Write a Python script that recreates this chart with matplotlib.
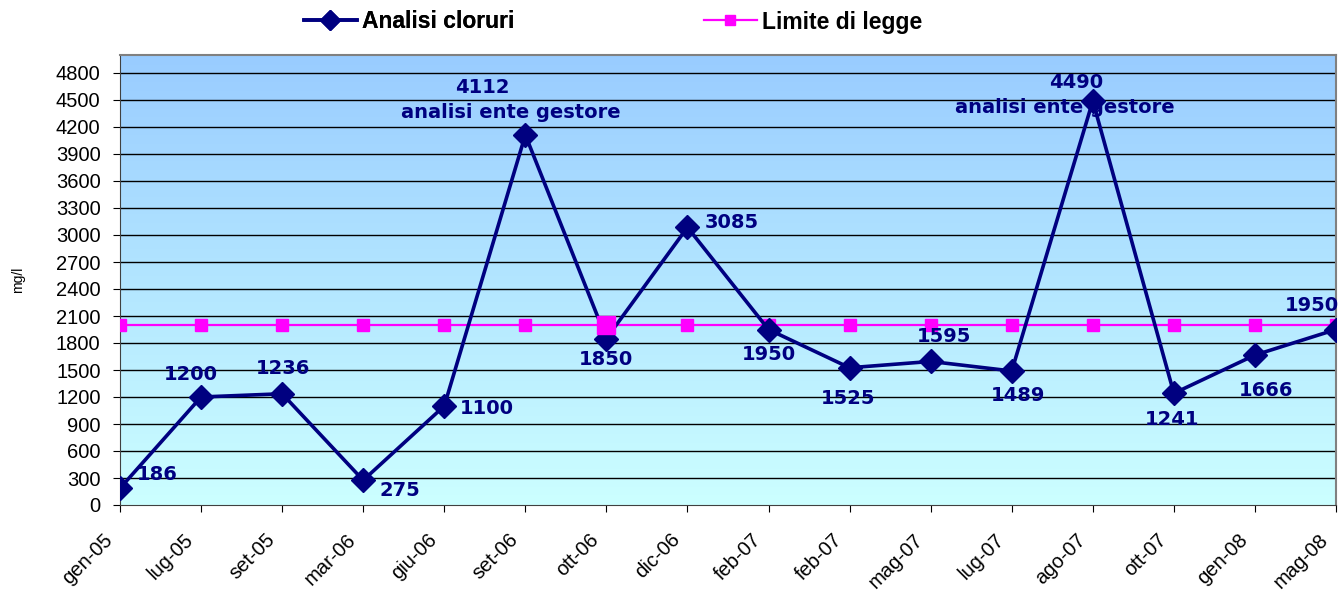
import numpy as np
import matplotlib
matplotlib.use("Agg")
import matplotlib.pyplot as plt
from matplotlib.colors import LinearSegmentedColormap

categories = ["gen-05", "lug-05", "set-05", "mar-06", "giu-06", "set-06", "ott-06", "dic-06",
              "feb-07", "feb-07", "mag-07", "lug-07", "ago-07", "ott-07", "gen-08", "mag-08"]
cloruri = [186, 1200, 1236, 275, 1100, 4112, 1850, 3085, 1950, 1525, 1595, 1489, 4490, 1241, 1666, 1950]
limite = [2000] * 16
notes = {5: "analisi ente gestore", 12: "analisi ente gestore"}

# label offsets in pixels (dx, dy) relative to the point
offsets = [(37, 14), (-10, 23), (1, 25), (37, -10), (43, -2), (-43, 47), (0, -21), (44, 5),
           (0, -25), (-2, -31), (13, 25), (6, -25), (-17, 18), (-2, -26), (11, -35), (-24, 24)]

W, H = 1343, 592
fig = plt.figure(figsize=(W / 100, H / 100), dpi=100)
L, R, T, B = 120, 1336, 55, 505
ax = fig.add_axes([L / W, 1 - B / H, (R - L) / W, (B - T) / H])

x = np.arange(len(categories))
ymax = 5000
cmap = LinearSegmentedColormap.from_list("bg", ["#CCFFFF", "#99CCFF"])
grad = np.linspace(0, 1, 256).reshape(-1, 1)
ax.imshow(grad, aspect="auto", cmap=cmap, origin="lower",
          extent=[0, len(categories) - 1, 0, ymax], zorder=0)

ax.set_xlim(0, len(categories) - 1)
ax.set_ylim(0, ymax)
ax.set_yticks(np.arange(0, 4801, 300))
for yv in np.arange(300, 4801, 300):
    ax.axhline(yv, color="black", lw=1, zorder=1)

lim_line, = ax.plot(x, limite, color="#FF00FF", lw=1.6, marker="s", ms=8, mec="#FF00FF",
                    mfc="#FF00FF", zorder=3, label="Limite di legge")
clo_line, = ax.plot(x, cloruri, color="#000080", lw=2.6, marker="D", ms=12, mec="#000080",
                    mfc="#000080", zorder=4, label="Analisi cloruri")
ax.plot([x[6]], [limite[6]], marker="s", ms=13, color="#FF00FF", zorder=5, ls="none")

for i, v in enumerate(cloruri):
    dx, dy = offsets[i]
    ax.annotate(str(v), (x[i], v), xytext=(dx, dy), textcoords="offset pixels",
                ha="center", va="center", fontsize=14, fontweight="bold",
                color="#000080", family="DejaVu Sans", zorder=6, annotation_clip=False)
    if i in notes:
        ax.annotate(notes[i], (x[i], v), xytext=(dx + (28 if i == 5 else -11), dy - 25),
                    textcoords="offset pixels", ha="center", va="center", fontsize=14,
                    fontweight="bold", color="#000080", family="DejaVu Sans", zorder=6)

ax.set_xticks(x)
ax.set_xticklabels([])
for i, c in enumerate(categories):
    ax.annotate(c, (x[i], 0), xycoords=("data", "axes fraction"), xytext=(-17, -25),
                textcoords="offset pixels", rotation=45, ha="right", va="top",
                rotation_mode="anchor", fontsize=14.5, family="Liberation Sans",
                annotation_clip=False)
for lab in ax.get_yticklabels():
    lab.set_family("Liberation Sans")
    lab.set_fontsize(14.5)
ax.tick_params(axis="x", length=5, direction="out", pad=0, color="black")
ax.tick_params(axis="y", length=5, direction="out", pad=9, color="black")
for s in ["top", "right"]:
    ax.spines[s].set_color("#808080")
    ax.spines[s].set_linewidth(1.5)
ax.spines["left"].set_color("#404040")
ax.spines["bottom"].set_color("#404040")

fig.text(18 / W, 1 - 280 / H, "mg/l", rotation=90, ha="center", va="center",
         fontsize=10, family="Liberation Sans")

lprop = {"family": "Liberation Sans", "weight": "bold", "size": 16.5}
leg1 = fig.legend([clo_line], ["Analisi cloruri"], loc="center left",
                  bbox_to_anchor=(304 / W, 1 - 22 / H), frameon=False, handlelength=2.3,
                  handletextpad=0.25, borderpad=0, borderaxespad=0, prop=lprop, markerscale=0.85)
leg2 = fig.legend([lim_line], ["Limite di legge"], loc="center left",
                  bbox_to_anchor=(704 / W, 1 - 22 / H), frameon=False, handlelength=2.3,
                  handletextpad=0.25, borderpad=0, borderaxespad=0, prop=lprop, markerscale=0.9)
fig.add_artist(leg1)

fig.savefig("out.png", dpi=100)
